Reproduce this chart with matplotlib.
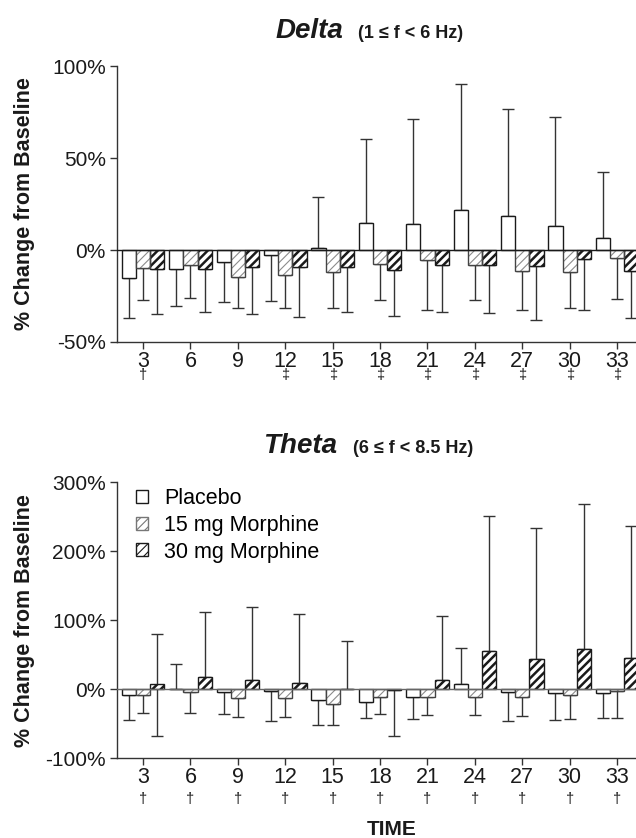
import numpy as np
import matplotlib
matplotlib.use("Agg")
import matplotlib.pyplot as plt
from matplotlib.patches import Patch
from matplotlib.transforms import blended_transform_factory

plt.rcParams['font.family'] = ['Liberation Sans', 'DejaVu Sans']
plt.rcParams['hatch.linewidth'] = 0.8

# hours after dosing
times = np.array([3, 6, 9, 12, 15, 18, 21, 24, 27, 30, 33])
time_labels = ['3', '6', '9', '12', '15', '18', '21', '24', '27', '30', '33']

# Delta band, % change from baseline, and the whisker ends
delta_placebo = [-15, -10.3, -6.7, -2.7, 0.9, 14.5, 14, 22, 18.3, 13, 6.3]
delta_placebo_tip = [-37, -30.4, -28.4, -27.7, 29, 60.5, 71, 90, 76.8, 72.3, 42.6]
delta_mg15 = [-10, -8.3, -14.5, -13.8, -12.1, -7.8, -5.4, -8.2, -11.4, -11.8, -4.5]
delta_mg15_tip = [-27, -26, -31.7, -31.7, -31.7, -27, -32.8, -27.4, -32.8, -31.3, -26.8]
delta_mg30 = [-10.5, -10.5, -9.2, -9, -9.2, -10.9, -8.2, -8.2, -8.7, -4.7, -11.6]
delta_mg30_tip = [-35, -33.7, -35, -36.4, -33.7, -35.7, -33.5, -34.4, -38, -32.8, -36.8]
delta_marks = ['\u2020', '', '', '\u2021', '\u2021', '\u2021', '\u2021', '\u2021',
               '\u2021', '\u2021', '\u2021']

# Theta band
theta_placebo = [-8.3, 0.5, -4, -2.5, -15.6, -18.5, -10.7, 8, -3.9, -5.9, -4.9]
theta_placebo_tip = [-45, 36, -36, -46, -52, -41.5, -42.4, 60, -46.3, -44.9, -41]
theta_mg15 = [-8.3, -4, -12.2, -13, -22, -11.7, -10.7, -10.7, -10.7, -7.8, -2.5]
theta_mg15_tip = [-34, -34.6, -40.5, -40.5, -52, -36, -36.6, -37.6, -38.5, -42.4, -41]
theta_mg30 = [7, 18.5, 14, 8.8, 0.5, -1.5, 14, 56, 43.5, 59, 45]
theta_mg30_tip = [80, 112, 119.5, 108.8, 70.5, -68, 106.5, 251, 233.5, 269, 236]
theta_mg30_tip2 = [-67, np.nan, np.nan, np.nan, np.nan, np.nan, np.nan, np.nan,
                   np.nan, np.nan, np.nan]
theta_marks = ['\u2020'] * 11

series_names = ['Placebo', '15 mg Morphine', '30 mg Morphine']

W = 0.9
INK = '#1a1a1a'


def whiskers(ax, x, vals, *tips):
    vals = np.asarray(vals, float)
    lo = np.zeros_like(vals)
    hi = np.zeros_like(vals)
    for tip in tips:
        tip = np.asarray(tip, float)
        d = np.nan_to_num(tip - vals)
        hi = np.maximum(hi, np.where(d > 0, d, 0))
        lo = np.maximum(lo, np.where(d < 0, -d, 0))
    ax.errorbar(x, vals, yerr=[lo, hi], fmt='none', ecolor='#333',
                elinewidth=1, capsize=4.5, capthick=1, zorder=1)


def panel(rect, placebo, p_tip, mg15, m15_tip, mg30, m30_tips, ylim, yticks,
          ylabels, marks, mark_y, zero_color):
    ax = fig.add_axes(rect)
    whiskers(ax, times - W, placebo, p_tip)
    whiskers(ax, times, mg15, m15_tip)
    whiskers(ax, times + W, mg30, *m30_tips)

    ax.bar(times - W, placebo, W, color='white', edgecolor=INK, lw=1, zorder=2)
    ax.bar(times, mg15, W, color='white', edgecolor='#8c8c8c', hatch='////',
           lw=0, zorder=2)
    ax.bar(times, mg15, W, fill=False, edgecolor='#444', lw=1, zorder=3)
    with plt.rc_context({'hatch.linewidth': 1.8}):
        ax.bar(times + W, mg30, W, color='white', edgecolor=INK, hatch='////',
               lw=1, zorder=2)
    ax.axhline(0, color=zero_color, lw=1, zorder=4)

    ax.set_xlim(1.35, 34.2)
    ax.set_ylim(*ylim)
    ax.set_yticks(yticks)
    ax.set_yticklabels(ylabels)
    ax.set_xticks(times)
    ax.set_xticklabels(time_labels)
    for s in ('top', 'right'):
        ax.spines[s].set_visible(False)
    for s in ('left', 'bottom'):
        ax.spines[s].set_color('#333')
        ax.spines[s].set_linewidth(1)
    ax.tick_params(axis='x', length=5, width=1, color='#333', pad=1.5,
                   labelsize=15.5, labelcolor=INK)
    ax.tick_params(axis='y', length=5, width=1, color='#333', pad=3,
                   labelsize=15, labelcolor=INK)
    tr = blended_transform_factory(ax.transData, ax.transAxes)
    for t, m in zip(times, marks):
        ax.text(t, mark_y, m, transform=tr, ha='center', va='center',
                fontsize=10.5, color=INK)
    return ax


fig = plt.figure(figsize=(6.36, 8.38), dpi=100)

ax1 = panel([0.184, 0.5919, 0.816, 0.3293],
            delta_placebo, delta_placebo_tip, delta_mg15, delta_mg15_tip,
            delta_mg30, [delta_mg30_tip], (-50, 100), [-50, 0, 50, 100],
            ['-50%', '0%', '50%', '100%'], delta_marks, -0.118, INK)

ax2 = panel([0.184, 0.0951, 0.816, 0.3294],
            theta_placebo, theta_placebo_tip, theta_mg15, theta_mg15_tip,
            theta_mg30, [theta_mg30_tip, theta_mg30_tip2], (-100, 300),
            [-100, 0, 100, 200, 300], ['-100%', '0%', '100%', '200%', '300%'],
            theta_marks, -0.148, '#666')

handles = [Patch(facecolor='white', edgecolor=INK, lw=1),
           Patch(facecolor='white', edgecolor='#777', hatch='////', lw=1),
           Patch(facecolor='white', edgecolor=INK, hatch='////', lw=1)]
ax2.legend(handles, series_names, loc='upper left', bbox_to_anchor=(0.036, 0.978),
           frameon=False, fontsize=15.5, handlelength=0.56, handleheight=0.56,
           handletextpad=0.75, labelspacing=0.26, borderpad=0, borderaxespad=0)

# titles
fig.text(343 / 636, 1 - 38 / 838, 'Delta', fontsize=20, fontweight='bold',
         fontstyle='italic', ha='right', va='baseline', color=INK)
fig.text(358 / 636, 1 - 38 / 838, '(1 \u2264 f < 6 Hz)', fontsize=13,
         fontweight='bold', ha='left', va='baseline', color=INK)
fig.text(337 / 636, 1 - 453 / 838, 'Theta', fontsize=20, fontweight='bold',
         fontstyle='italic', ha='right', va='baseline', color=INK)
fig.text(353 / 636, 1 - 453 / 838, '(6 \u2264 f < 8.5 Hz)', fontsize=13,
         fontweight='bold', ha='left', va='baseline', color=INK)

for ax in (ax1, ax2):
    pos = ax.get_position()
    fig.text(25 / 636, (pos.y0 + pos.y1) / 2, '% Change from Baseline',
             rotation=90, fontsize=15.5, fontweight='bold', ha='center',
             va='center', color=INK)

fig.text(392 / 636, 1 - 829 / 838, 'TIME', fontsize=15, fontweight='bold',
         ha='center', va='center', color=INK)

fig.savefig('out.png', dpi=100, facecolor='white')
